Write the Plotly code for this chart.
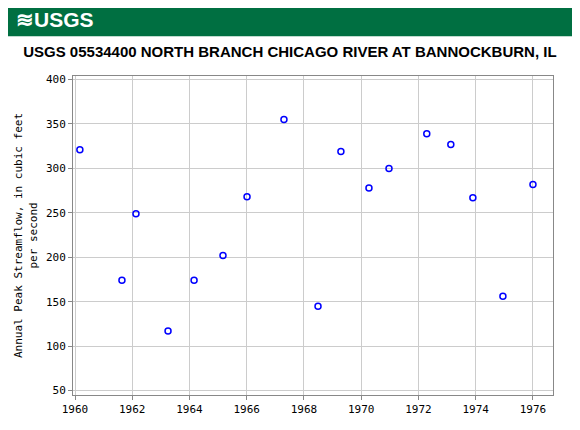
import plotly.graph_objects as go

years = [1960.17, 1961.64, 1962.13, 1963.25, 1964.16, 1965.17, 1966.01, 1967.30,
         1968.49, 1969.29, 1970.27, 1970.97, 1972.29, 1973.13, 1973.90, 1974.95, 1976.0]
peaks = [321, 174, 249, 117, 174, 202, 268, 355, 145, 319, 278, 300, 339, 327, 267, 156, 282]
xticks = list(range(1960, 1977, 2))
yticks = list(range(50, 401, 50))

fig = go.Figure()
fig.add_trace(go.Scatter(x=years, y=peaks, mode="markers",
                         marker=dict(symbol="circle-open", color="#0000ff", size=6, line=dict(width=1.5))))

fig.update_layout(
    width=580, height=430, showlegend=False,
    paper_bgcolor="white", plot_bgcolor="white",
    margin=dict(l=65, r=35, t=68, b=43, autoexpand=False),
    title=dict(text="USGS 05534400 NORTH BRANCH CHICAGO RIVER AT BANNOCKBURN, IL",
               x=0.486, xanchor="center", y=0.898, yanchor="middle",
               font=dict(family="Liberation Sans", size=15, color="black", weight="bold")),
    shapes=[dict(type="rect", xref="paper", yref="paper", x0=-0.146, x1=1.052, y0=1.125, y1=1.229,
                 fillcolor="#006f41", line=dict(width=0), layer="below")],
    annotations=[dict(text="<b>≋USGS</b>", xref="paper", yref="paper", x=-0.122, y=1.177,
                      xanchor="left", yanchor="middle", showarrow=False,
                      font=dict(family="Liberation Sans", size=21, color="white"))],
)
axis_common = dict(showgrid=True, gridcolor="#cccccc", gridwidth=1, showline=True, linecolor="#888888",
                   mirror=True, ticks="outside", ticklen=4, tickcolor="#888888", automargin=False,
                   tickfont=dict(family="DejaVu Sans Mono", size=11, color="black"), zeroline=False)
fig.update_xaxes(range=[1959.93, 1976.7], tickvals=xticks, **axis_common)
fig.update_yaxes(range=[45, 404], tickvals=yticks,
                 title=dict(text="Annual Peak Streamflow, in cubic feet<br>per second",
                            font=dict(family="DejaVu Sans Mono", size=11, color="black"), standoff=6),
                 **axis_common)
fig.write_html("out.html")
